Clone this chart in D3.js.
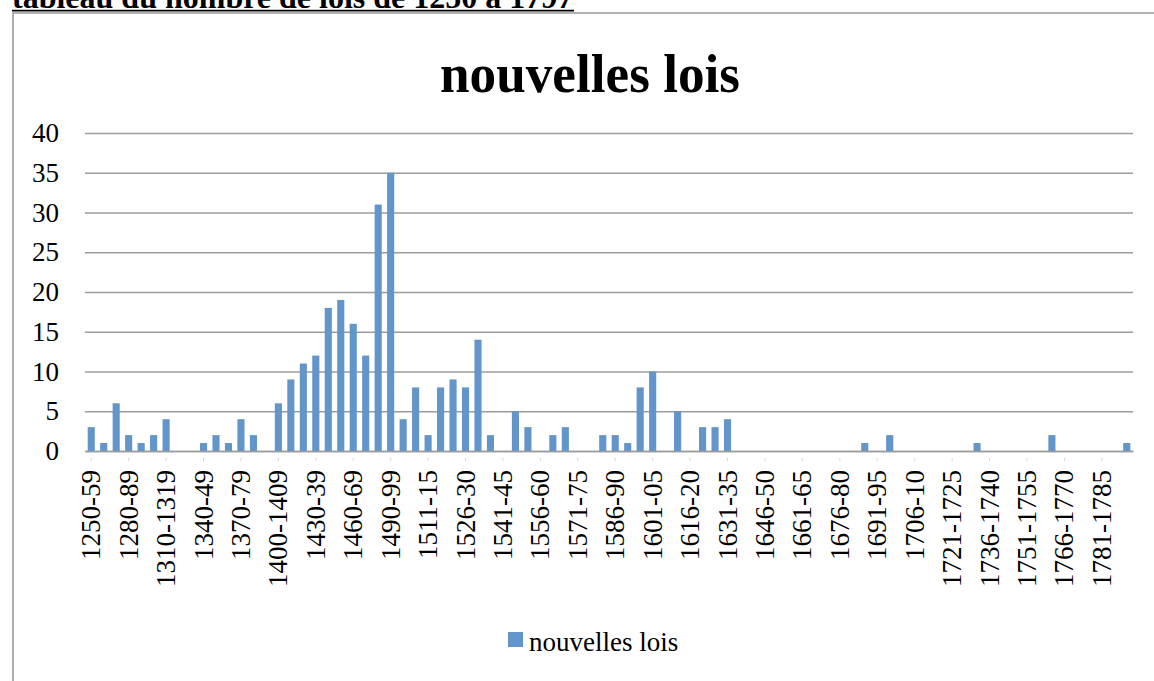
<!DOCTYPE html>
<html>
<head>
<meta charset="utf-8">
<script src="https://cdn.jsdelivr.net/npm/d3@7"></script>
<style>
  body { margin: 0; background: #fff; }
  svg text { font-family: "Liberation Serif", "Times New Roman", serif; }
</style>
</head>
<body>
<div id="chart"></div>
<script>
// periodes (decennies puis tranches de 5 ans)
const periods = [
  "1250-59", "1260-69", "1270-79", "1280-89", "1290-99", "1300-09", "1310-1319", "1320-29",
  "1330-39", "1340-49", "1350-59", "1360-69", "1370-79", "1380-89", "1390-99", "1400-1409",
  "1410-19", "1420-29", "1430-39", "1440-49", "1450-59", "1460-69", "1470-79", "1480-89",
  "1490-99", "1500-05", "1506-10", "1511-15", "1516-20", "1521-25", "1526-30", "1531-35",
  "1536-40", "1541-45", "1546-50", "1551-55", "1556-60", "1561-65", "1566-70", "1571-75",
  "1576-80", "1581-85", "1586-90", "1591-95", "1596-1600", "1601-05", "1606-10", "1611-15",
  "1616-20", "1621-25", "1626-30", "1631-35", "1636-40", "1641-45", "1646-50", "1651-55",
  "1656-60", "1661-65", "1666-70", "1671-75", "1676-80", "1681-85", "1686-90", "1691-95",
  "1696-1700", "1701-05", "1706-10", "1711-15", "1716-20", "1721-1725", "1726-1730", "1731-1735",
  "1736-1740", "1741-1745", "1746-1750", "1751-1755", "1756-1760", "1761-1765", "1766-1770", "1771-1775",
  "1776-1780", "1781-1785", "1786-1790", "1791-1797"
];

const nouvellesLois = [
  3, 1, 6, 2, 1, 2, 4, 0,
  0, 1, 2, 1, 4, 2, 0, 6,
  9, 11, 12, 18, 19, 16, 12, 31,
  35, 4, 8, 2, 8, 9, 8, 14,
  2, 0, 5, 3, 0, 2, 3, 0,
  0, 2, 2, 1, 8, 10, 0, 5,
  0, 3, 3, 4, 0, 0, 0, 0,
  0, 0, 0, 0, 0, 0, 1, 0,
  2, 0, 0, 0, 0, 0, 0, 1,
  0, 0, 0, 0, 0, 2, 0, 0,
  0, 0, 0, 1
];

const yTicks = [0, 5, 10, 15, 20, 25, 30, 35, 40];

const W = 1154, H = 681;
const margin = { top: 133, right: 21, bottom: 230, left: 85 };
const width = W - margin.left - margin.right;
const height = H - margin.top - margin.bottom;
const barColor = "#6295c9";

const root = d3.select("#chart")
    .append("svg")
    .attr("width", W)
    .attr("height", H);

// en-tete du document (coupe en haut)
root.append("text")
    .attr("x", 12)
    .attr("y", 7.5)
    .attr("font-size", 32)
    .attr("font-weight", "bold")
    .attr("fill", "#000")
    .text("tableau du nombre de lois de 1250 à 1797");
root.append("line")
    .attr("x1", 12).attr("x2", 574)
    .attr("y1", 10.6).attr("y2", 10.6)
    .attr("stroke", "#000")
    .attr("stroke-width", 1.6);

// cadre du graphique
root.append("path")
    .attr("d", `M13,${H} V13 H${W}`)
    .attr("fill", "none")
    .attr("stroke", "#9a9a9a")
    .attr("stroke-width", 1.6);

root.append("text")
    .attr("x", 590)
    .attr("y", 92)
    .attr("text-anchor", "middle")
    .attr("font-size", 55)
    .attr("font-weight", "bold")
    .attr("textLength", 300)
    .attr("lengthAdjust", "spacingAndGlyphs")
    .text("nouvelles lois");

const svg = root.append("g")
    .attr("transform", `translate(${margin.left}, ${margin.top})`);

const x = d3.scaleBand()
    .domain(periods)
    .range([0, width])
    .paddingInner(0.43)
    .paddingOuter(0.215);

const y = d3.scaleLinear().domain([0, 40]).range([height, 0]);

// grille + axe Y
const yAxis = svg.append("g")
    .call(d3.axisLeft(y).tickValues(yTicks).tickSize(-width).tickPadding(26));
yAxis.select(".domain").remove();
yAxis.selectAll(".tick line")
    .attr("stroke", "#9c9c9c")
    .attr("stroke-width", 1.7);
yAxis.selectAll(".tick text")
    .attr("font-size", 27)
    .attr("fill", "#000")
    .attr("font-family", "Liberation Serif, serif");

svg.selectAll(".bar")
    .data(periods.map((p, i) => ({ p, v: nouvellesLois[i] })))
    .enter()
    .append("rect")
    .attr("class", "bar")
    .attr("x", d => x(d.p))
    .attr("y", d => y(d.v))
    .attr("width", x.bandwidth())
    .attr("height", d => height - y(d.v))
    .attr("fill", barColor);

// axe X, une etiquette sur trois
const xAxis = svg.append("g")
    .attr("transform", `translate(0, ${height})`)
    .call(d3.axisBottom(x)
        .tickValues(periods.filter((d, i) => i % 3 === 0))
        .tickSize(0)
        .tickPadding(0));
xAxis.select(".domain")
    .attr("stroke", "#9c9c9c")
    .attr("stroke-width", 1.7);
xAxis.selectAll(".tick text")
    .attr("font-size", 27)
    .attr("fill", "#000")
    .attr("font-family", "Liberation Serif, serif")
    .attr("text-anchor", "end")
    .attr("dy", null)
    .attr("y", 0)
    .attr("transform", "translate(9, 19) rotate(-90)");
xAxis.selectAll(".tick")
    .append("line")
    .attr("y1", 7).attr("y2", 10)
    .attr("stroke", "#d8d8d8");

// legende
const legend = root.append("g").attr("transform", "translate(508, 632)");
legend.append("rect")
    .attr("width", 15).attr("height", 15)
    .attr("fill", barColor);
legend.append("text")
    .attr("x", 21)
    .attr("y", 19)
    .attr("font-size", 27)
    .text("nouvelles lois");
</script>
</body>
</html>
